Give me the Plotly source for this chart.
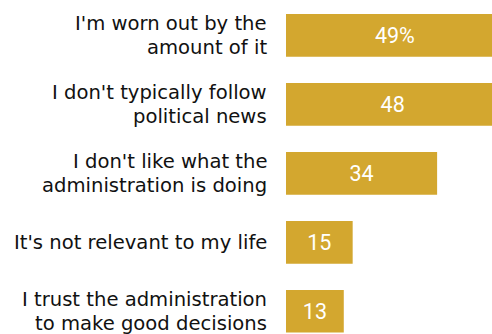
import plotly.graph_objects as go

# Survey responses (reasons for tuning out political news)
reasons = [
    "I'm worn out by the<br>amount of it",
    "I don't typically follow<br>political news",
    "I don't like what the<br>administration is doing",
    "It's not relevant to my life",
    "I trust the administration<br>to make good decisions",
]
shares = [49, 48, 34, 15, 13]
value_labels = [f"{v}%" if i == 0 else f"{v}" for i, v in enumerate(shares)]

BAR_COLOR = "#D3A72F"
LABEL_FONT = dict(family="DejaVu Sans", size=19.6, color="#111111")
LINE_STEP = 23.5  # px between stacked label lines

fig = go.Figure(
    go.Bar(
        x=shares,
        y=reasons,
        orientation="h",
        marker=dict(color=BAR_COLOR, line=dict(width=0)),
        text=value_labels,
        textposition="inside",
        insidetextanchor="middle",
        constraintext="none",
        textfont=dict(family="Roboto", size=21.5, color="white"),
        hoverinfo="skip",
    )
)

# Category labels, right-aligned to the left of the bars, one annotation per line
for reason in reasons:
    lines = reason.split("<br>")
    n = len(lines)
    for j, line in enumerate(lines):
        fig.add_annotation(
            x=0,
            xref="paper",
            y=reason,
            yref="y",
            text=line,
            showarrow=False,
            xanchor="right",
            yanchor="middle",
            xshift=-17,
            yshift=((n - 1) / 2 - j) * LINE_STEP,
            font=LABEL_FONT,
        )

fig.update_layout(
    width=492,
    height=334,
    margin=dict(l=286, r=0, t=1, b=0),
    paper_bgcolor="white",
    plot_bgcolor="white",
    bargap=0.38,
    showlegend=False,
    xaxis=dict(
        range=[0, 46.35],
        visible=False,
        fixedrange=True,
    ),
    yaxis=dict(
        type="category",
        range=[4.33, -0.5],
        showgrid=False,
        zeroline=False,
        showline=False,
        ticks="",
        showticklabels=False,
        fixedrange=True,
    ),
)

fig.write_html("out.html")
